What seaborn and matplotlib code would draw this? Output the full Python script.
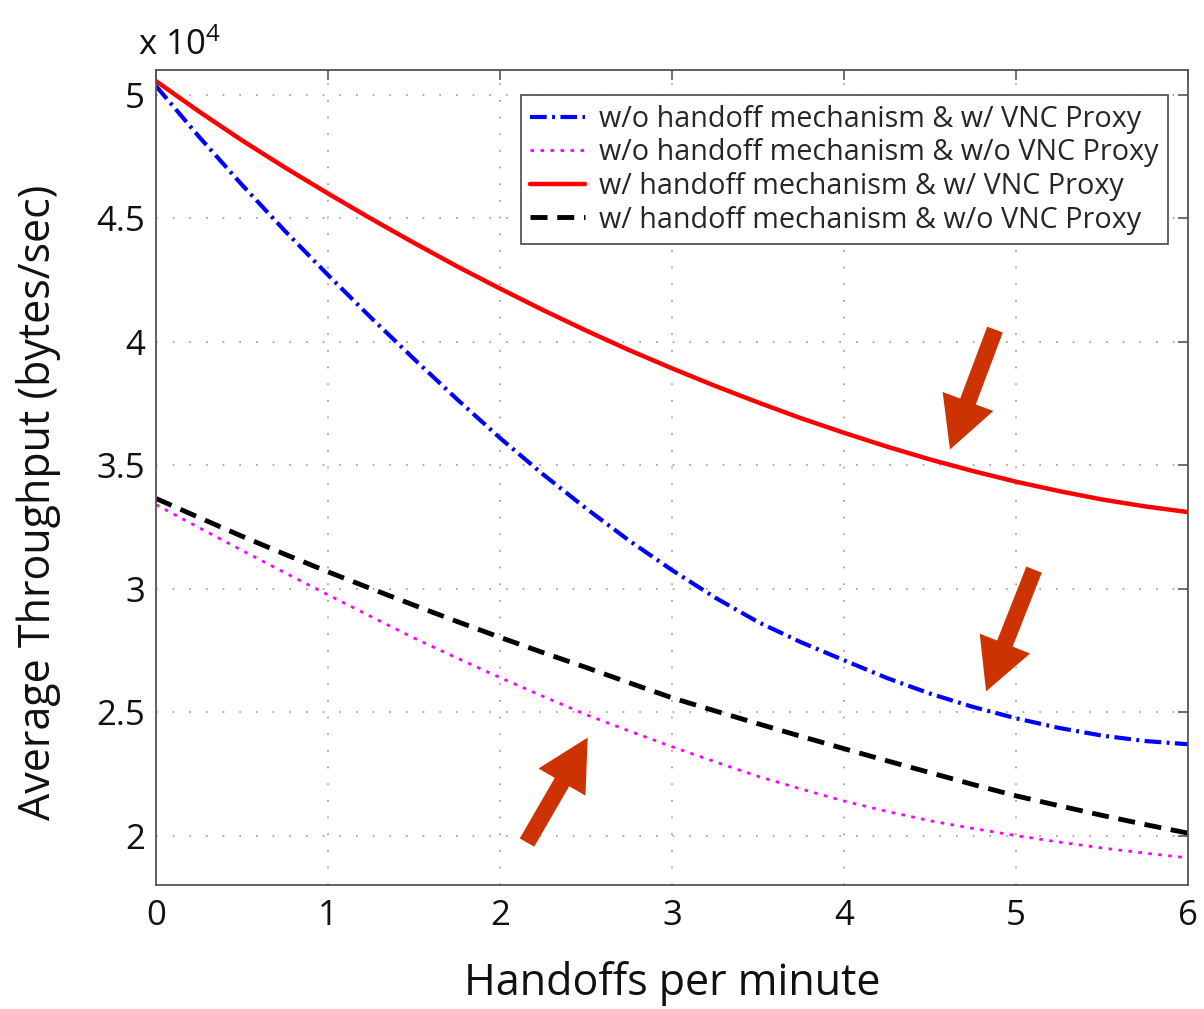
import numpy as np
import pandas as pd
import matplotlib
matplotlib.use('Agg')
import matplotlib.pyplot as plt
import seaborn as sns

"""throughput vs handoff rate, with and without handoff mechanism / VNC proxy"""

handoffs = [0, 0.25, 0.5, 0.75, 1, 1.25, 1.5, 1.75, 2, 2.25, 2.5, 2.75, 3,
            3.25, 3.5, 3.75, 4, 4.25, 4.5, 4.75, 5, 5.25, 5.5, 5.75, 6]

# average throughput, in units of 10^4 bytes/sec
wo_handoff_w_proxy = [5.035, 4.830, 4.635, 4.448, 4.27, 4.097, 3.93, 3.767, 3.61, 3.463, 3.325, 3.195, 3.075,
                      2.964, 2.865, 2.783, 2.71, 2.638, 2.575, 2.521, 2.475, 2.436, 2.405, 2.383, 2.37]
wo_handoff_wo_proxy = [3.34, 3.247, 3.155, 3.064, 2.975, 2.887, 2.80, 2.719, 2.64, 2.564, 2.49, 2.424, 2.36,
                       2.299, 2.24, 2.189, 2.14, 2.098, 2.06, 2.029, 2.00, 1.974, 1.95, 1.929, 1.91]
w_handoff_w_proxy = [5.055, 4.932, 4.815, 4.705, 4.60, 4.498, 4.40, 4.305, 4.215, 4.128, 4.045, 3.966, 3.892,
                     3.821, 3.754, 3.690, 3.631, 3.575, 3.523, 3.476, 3.433, 3.395, 3.361, 3.333, 3.310]
w_handoff_wo_proxy = [3.365, 3.288, 3.212, 3.139, 3.068, 3.000, 2.933, 2.867, 2.803, 2.741, 2.681, 2.619, 2.558,
                      2.505, 2.453, 2.402, 2.352, 2.303, 2.255, 2.207, 2.161, 2.121, 2.082, 2.045, 2.01]

labels = ['w/o handoff mechanism & w/ VNC Proxy',
          'w/o handoff mechanism & w/o VNC Proxy',
          'w/ handoff mechanism & w/ VNC Proxy',
          'w/ handoff mechanism & w/o VNC Proxy']

# arrows (tail -> tip) pointing at the curves
arrow_tails = [(4.878, 4.049), (5.105, 3.077), (2.157, 1.972)]
arrow_tips = [(4.616, 3.563), (4.826, 2.584), (2.51, 2.397)]

FONT = 'Open Sans'


def main():
    sns.set_theme(style='white')
    plt.rcParams['font.family'] = [FONT, 'DejaVu Sans']
    plt.rcParams['mathtext.fontset'] = 'custom'
    plt.rcParams['mathtext.rm'] = FONT
    plt.rcParams['mathtext.it'] = FONT

    fig = plt.figure(figsize=(12.04, 10.09), dpi=100)
    ax = fig.add_axes([156 / 1204, 1 - 885 / 1009, 1032 / 1204, 815 / 1009])

    series = [wo_handoff_w_proxy, wo_handoff_wo_proxy, w_handoff_w_proxy, w_handoff_wo_proxy]
    styles = [dict(color='#0000ff', lw=3.0, linestyle=(0, (4, 1.3, 0.7, 1.3))),
              dict(color='#ff00ff', lw=2.0, linestyle=(0, (1.3, 2.3))),
              dict(color='#ff0000', lw=3.2, linestyle='-'),
              dict(color='#000000', lw=3.5, linestyle=(0, (3.5, 2.0)))]

    df = pd.DataFrame({'x': handoffs})
    for lab, vals, st in zip(labels, series, styles):
        df[lab] = vals
        sns.lineplot(data=df, x='x', y=lab, ax=ax, label=lab, **st)

    for tail, tip in zip(arrow_tails, arrow_tips):
        ax.annotate('', xy=tip, xytext=tail,
                    arrowprops=dict(arrowstyle='simple,head_length=37,head_width=39,tail_width=12',
                                    mutation_scale=1, color='#cc3300', shrinkA=0, shrinkB=0, lw=0))

    ax.set_xlim(0, 6)
    ax.set_ylim(1.8, 5.1)
    ax.set_xticks(range(0, 7))
    ax.set_yticks([2, 2.5, 3, 3.5, 4, 4.5, 5])
    ax.set_yticklabels(['2', '2.5', '3', '3.5', '4', '4.5', '5'])

    ax.grid(True, color='#999999', linestyle=(0, (1, 9)), lw=1.2)
    for sp in ax.spines.values():
        sp.set_color('#555555')
        sp.set_linewidth(1.3)
    ax.tick_params(direction='in', length=7, width=1.2, color='#555555',
                   top=True, right=True, labelsize=25, labelcolor='#111111')
    ax.tick_params(axis='x', pad=10)
    ax.tick_params(axis='y', pad=8)

    ax.set_xlabel('Handoffs per minute', fontsize=31, color='#111111', labelpad=20)
    ax.set_ylabel('Average Throughput (bytes/sec)', fontsize=31, color='#111111')
    ax.yaxis.set_label_coords(-0.092, 0.47)

    ax.text(-0.017, 1.018, 'x 10$^{4}$', transform=ax.transAxes, fontsize=25,
            color='#111111', ha='left', va='baseline')

    leg = ax.legend(loc='upper right', bbox_to_anchor=(0.9806, 0.969), fontsize=20.7,
                    frameon=True, fancybox=False, edgecolor='#555555', framealpha=1,
                    handlelength=1.9, handletextpad=0.5, labelspacing=0.16,
                    borderpad=0.33, borderaxespad=0)
    leg.get_frame().set_linewidth(1.3)

    plt.savefig('out.png', dpi=100)
    plt.close()


main()
